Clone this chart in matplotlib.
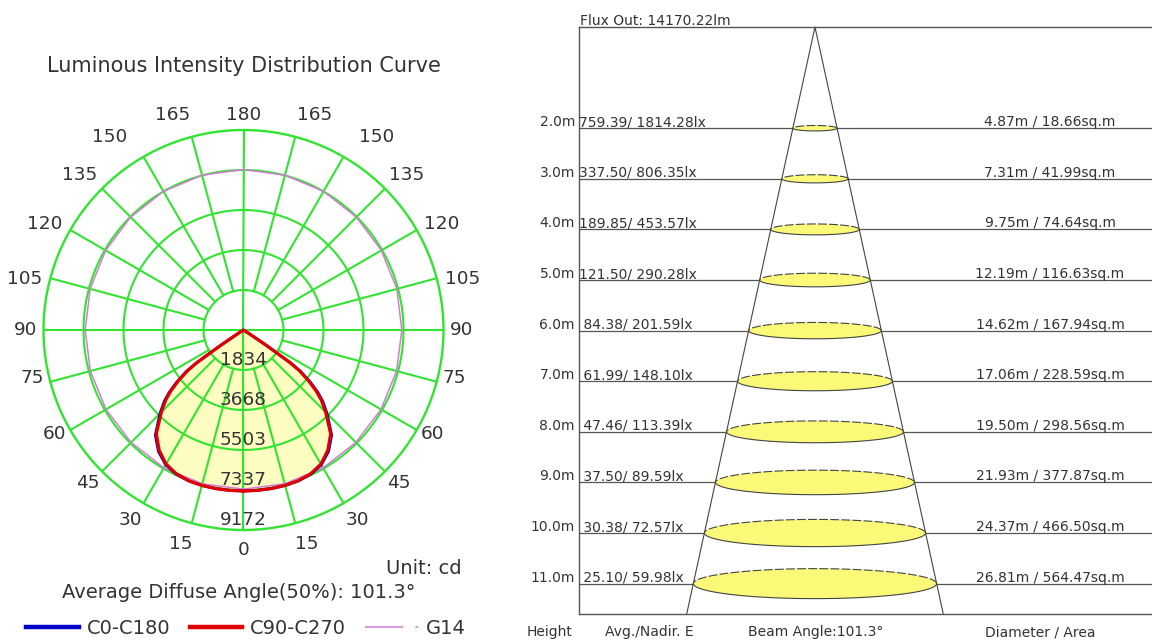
import numpy as np
import matplotlib
matplotlib.use("Agg")
import matplotlib.pyplot as plt
import matplotlib.transforms as mtransforms
from matplotlib.patches import Ellipse
from matplotlib.lines import Line2D

# ---- luminous intensity (cd), gamma angles from nadir ----
angles = [0, 5, 10, 15, 20, 25, 30, 35, 40, 45, 48, 50, 52, 54, 55, 56, 57, 58, 60, 70, 80, 90]
c0_c180 = [7383, 7383, 7383, 7380, 7365, 7300, 7140, 6800, 6290, 5420, 4890, 4450, 3900, 3250, 2680, 1380, 460, 0, 0, 0, 0, 0]
c90_c270 = [7383, 7383, 7383, 7380, 7355, 7280, 7100, 6740, 6220, 5330, 4800, 4350, 3800, 3150, 2600, 1300, 400, 0, 0, 0, 0, 0]
g14_angles = [0, 15, 30, 45, 60, 75, 90, 105, 120, 135, 150, 165, 180]
g14 = [7300, 7300, 7300, 7290, 7280, 7270, 7260, 7280, 7300, 7320, 7340, 7350, 7360]
ring_values = [1834, 3668, 5503, 7337, 9172]
angle_labels = [0, 15, 30, 45, 60, 75, 90, 105, 120, 135, 150, 165, 180]

# ---- illuminance table ----
heights = [2.0, 3.0, 4.0, 5.0, 6.0, 7.0, 8.0, 9.0, 10.0, 11.0]
avg_e = [759.39, 337.50, 189.85, 121.50, 84.38, 61.99, 47.46, 37.50, 30.38, 25.10]
nadir_e = [1814.28, 806.35, 453.57, 290.28, 201.59, 148.10, 113.39, 89.59, 72.57, 59.98]
diameters = [4.87, 7.31, 9.75, 12.19, 14.62, 17.06, 19.50, 21.93, 24.37, 26.81]
areas = [18.66, 41.99, 74.64, 116.63, 167.94, 228.59, 298.56, 377.87, 466.50, 564.47]
beam_angle = 101.3
flux_out = 14170.22

GREEN = "#30e430"
TXT = "#333333"

fig = plt.figure(figsize=(11.52, 6.42), dpi=100)

# ================= polar chart =================
ax = fig.add_axes([43.5 / 1152, 112 / 642, 400 / 1152, 400 / 642], projection="polar")
ax.set_theta_zero_location("S")
rmax = ring_values[-1]
ax.set_ylim(0, rmax)
ax.set_xticks([])
ax.set_yticks([])
ax.grid(False)
ax.spines["polar"].set_color(GREEN)
ax.spines["polar"].set_linewidth(1.7)


def mirror(ang, vals):
    a = np.radians(ang)
    th = np.concatenate([a, 2 * np.pi - a[::-1]])
    rr = np.concatenate([vals, vals[::-1]])
    return th, rr


th_b, r_b = mirror(np.array(angles, float), np.array(c0_c180, float))
th_r, r_r = mirror(np.array(angles, float), np.array(c90_c270, float))
th_g, r_g = mirror(np.array(g14_angles, float), np.array(g14, float))

ax.fill(th_r, r_r, color="#fdfdc2", lw=0, zorder=1)

# grid
circ = np.linspace(0, 2 * np.pi, 361)
for v in ring_values[:-1]:
    ax.plot(circ, np.full_like(circ, v), color=GREEN, lw=1.5, zorder=2)
for a in range(0, 360, 15):
    r0 = 0 if a % 90 == 0 else ring_values[0]
    ax.plot([np.radians(a)] * 2, [r0, rmax], color=GREEN, lw=1.5, zorder=2)

ax.plot(th_g, r_g, color="#d77ad7", lw=1.1, zorder=3)
ax.plot(th_b, r_b, color="#0000cc", lw=2.0, zorder=4)
ax.plot(th_r, r_r, color="#e00000", lw=2.3, zorder=5)

for v in ring_values:
    ax.text(0, v - 0.05 * rmax, str(v), ha="center", va="center",
            fontsize=13.3, color=TXT, zorder=6)

nudges = {0: (0, 0), 15: (-6, -1.5), 30: (-3.5, 0.5), 45: (0, 2.4), 60: (2, 6),
          75: (1.5, 9), 90: (2, 0), 105: (-6.5, -6), 120: (-8, -4), 135: (-8, -1),
          150: (-23.5, 2.5), 165: (-14, 2.5), 180: (0, -4.7)}
for a in angle_labels:
    sides = [1] if a in (0, 180) else [1, -1]
    for s in sides:
        nx, ny = nudges[a]
        ax.annotate(str(a), xy=(np.radians(s * a), 1.1 * rmax),
                    xytext=(-s * nx, ny), textcoords="offset pixels",
                    ha="center", va="center", fontsize=13.3, color=TXT,
                    annotation_clip=False)

fig.text(244 / 1152, 1 - 66 / 642, "Luminous Intensity Distribution Curve",
         ha="center", va="center", fontsize=15, color=TXT)
fig.text(462 / 1152, 1 - 569 / 642, "Unit: cd", ha="right", va="center",
         fontsize=14, color=TXT)
fig.text(239 / 1152, 1 - 592 / 642, "Average Diffuse Angle(50%): 101.3°",
         ha="center", va="center", fontsize=14, color=TXT)

handles = [Line2D([], [], color="#0000cc", lw=3.2),
           Line2D([], [], color="#e00000", lw=3.2),
           Line2D([], [], color="#d77ad7", lw=1.1, linestyle=(0, (25, 8, 3, 8)))]
fig.legend(handles, ["C0-C180", "C90-C270", "G14"], loc="center",
           bbox_to_anchor=(246 / 1152, 1 - 628 / 642), ncol=3, frameon=False,
           fontsize=14, handlelength=2.7, handletextpad=0.4, columnspacing=1.0,
           labelcolor=TXT)

# ================= illuminance cone =================
ax2 = fig.add_axes([579 / 1152, 1 - 614 / 642, 573 / 1152, 587 / 642])
ymax = 11.6
xmin, xmax = -26.02, 37.16
ax2.set_xlim(xmin, xmax)
ax2.set_ylim(ymax, 0)
ax2.set_xticks([])
ax2.set_yticks([])
for sp in ["left", "top", "bottom"]:
    ax2.spines[sp].set_color("#555555")
    ax2.spines[sp].set_linewidth(1.0)
ax2.spines["right"].set_visible(False)

half = np.tan(np.radians(beam_angle / 2))
ax2.plot([-half * ymax, 0, half * ymax], [ymax, 0, ymax], color="#444444", lw=0.8,
         clip_on=False, zorder=2)

trans = mtransforms.blended_transform_factory(ax2.transAxes, ax2.transData)
t = np.linspace(0, np.pi, 80)
for h, av, nd, d, ar in zip(heights, avg_e, nadir_e, diameters, areas):
    eh = d * 0.0221
    ax2.plot([xmin, -d / 2], [h, h], color="#555555", lw=0.9, zorder=2)
    ax2.plot([d / 2, xmax], [h, h], color="#555555", lw=0.9, zorder=2)
    ax2.add_patch(Ellipse((0, h), d, eh, facecolor="#fafa78", edgecolor="none", zorder=3))
    ax2.plot(d / 2 * np.cos(t), h - eh / 2 * np.sin(t), color="#444444", lw=0.8,
             linestyle=(0, (8, 2)), zorder=4)
    ax2.plot(d / 2 * np.cos(t), h + eh / 2 * np.sin(t), color="#444444", lw=0.8, zorder=4)
    ax2.annotate(f"{h:.1f}m", xy=(-0.007, h), xycoords=trans, xytext=(0, 2),
                 textcoords="offset pixels", ha="right", va="baseline",
                 fontsize=10, color=TXT, annotation_clip=False)
    ax2.annotate(f"{av:6.2f}/ {nd:.2f}lx", xy=(0.0, h), xycoords=trans, xytext=(0, 2),
                 textcoords="offset pixels", ha="left", va="baseline",
                 fontsize=10, color=TXT)
    ax2.annotate(f"{d:.2f}m / {ar:.2f}sq.m", xy=(0.822, h), xycoords=trans, xytext=(0, 2),
                 textcoords="offset pixels", ha="center", va="baseline",
                 fontsize=10, color=TXT)

ax2.annotate(f"Flux Out: {flux_out:.2f}lm", xy=(0.002, 1.0), xycoords="axes fraction",
             xytext=(0, 2), textcoords="offset pixels", ha="left", va="baseline",
             fontsize=10, color=TXT, annotation_clip=False)

yb = 1 - 632 / 642
fig.text(550 / 1152, yb, "Height", ha="center", va="center", fontsize=10, color=TXT)
fig.text(649 / 1152, yb, "Avg./Nadir. E", ha="center", va="center", fontsize=10, color=TXT)
fig.text(816 / 1152, yb, f"Beam Angle:{beam_angle}°", ha="center", va="center",
         fontsize=10, color=TXT)
fig.text(1040 / 1152, yb, "Diameter / Area", ha="center", va="center", fontsize=10, color=TXT)

fig.savefig("out.png", dpi=100, facecolor="white")
